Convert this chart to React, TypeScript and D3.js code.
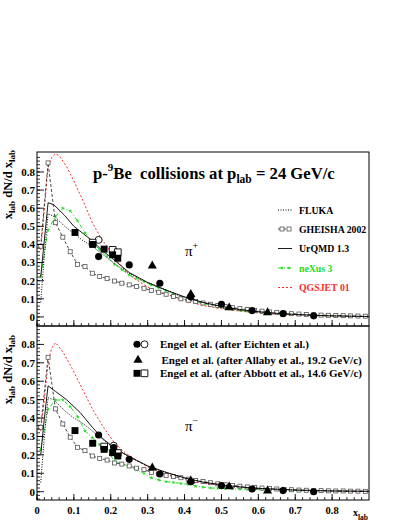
import React, { useRef, useEffect } from 'react';
import * as d3 from 'd3';

type Pt = [number, number];

// bin centres of the GHEISHA and neXus histograms
const binX = [0.01, 0.03, 0.05, 0.07, 0.09, 0.11, 0.13, 0.15, 0.17, 0.19, 0.21, 0.23, 0.25, 0.27, 0.29,
  0.31, 0.33, 0.35, 0.37, 0.39, 0.41, 0.43, 0.45, 0.47, 0.49, 0.51, 0.53, 0.55, 0.57, 0.59,
  0.61, 0.63, 0.65, 0.67, 0.69, 0.71, 0.73, 0.75, 0.77, 0.79, 0.81, 0.83, 0.85, 0.87, 0.89];

const gheishaPip = [0.39, 0.85, 0.52, 0.44, 0.36, 0.29, 0.278, 0.241, 0.223, 0.212, 0.198, 0.186, 0.177, 0.168, 0.158,
  0.146, 0.136, 0.125, 0.113, 0.1, 0.092, 0.085, 0.077, 0.07, 0.063, 0.057, 0.051, 0.046, 0.041, 0.036,
  0.032, 0.028, 0.025, 0.021, 0.018, 0.016, 0.014, 0.012, 0.01, 0.009, 0.008, 0.007, 0.006, 0.005, 0.004];
const gheishaPim = [0.35, 0.73, 0.45, 0.368, 0.296, 0.241, 0.223, 0.194, 0.181, 0.172, 0.156, 0.15, 0.14, 0.128, 0.12,
  0.105, 0.097, 0.088, 0.082, 0.076, 0.068, 0.061, 0.055, 0.049, 0.043, 0.038, 0.034, 0.03, 0.026, 0.023,
  0.02, 0.017, 0.015, 0.013, 0.011, 0.009, 0.008, 0.007, 0.006, 0.005, 0.004, 0.004, 0.003, 0.003, 0.002];

const nexusPip = [0.22, 0.48, 0.555, 0.6, 0.585, 0.53, 0.465, 0.415, 0.37, 0.335, 0.29, 0.26, 0.232, 0.212, 0.195,
  0.177, 0.16, 0.145, 0.127, 0.11, 0.096, 0.083, 0.073, 0.064, 0.055, 0.048, 0.042, 0.036, 0.031, 0.027,
  0.024, 0.021, 0.019, 0.016, 0.014, 0.012, 0.01, 0.008, 0.007, 0.006, 0.005, 0.005, 0.004, 0.003, 0.003];
const nexusPim = [0.227, 0.448, 0.498, 0.498, 0.462, 0.408, 0.33, 0.293, 0.254, 0.227, 0.165, 0.155, 0.136, 0.118, 0.1,
  0.075, 0.064, 0.055, 0.05, 0.045, 0.04, 0.03, 0.025, 0.02, 0.019, 0.018, 0.016, 0.014, 0.013, 0.012,
  0.011, 0.01, 0.009, 0.008, 0.007, 0.006, 0.005, 0.005, 0.004, 0.004, 0.003, 0.003, 0.002, 0.002, 0.002];

const flukaPip: Pt[] = [[0.01, 0.08], [0.02, 0.34], [0.03, 0.57], [0.05, 0.55], [0.075, 0.5], [0.1, 0.46],
  [0.125, 0.42], [0.15, 0.39], [0.175, 0.35], [0.2, 0.31], [0.25, 0.24], [0.3, 0.19], [0.35, 0.148],
  [0.4, 0.11], [0.45, 0.08], [0.5, 0.057], [0.55, 0.04], [0.6, 0.028], [0.65, 0.019], [0.7, 0.013],
  [0.75, 0.009], [0.8, 0.006], [0.85, 0.004], [0.9, 0.002]];
const flukaPim: Pt[] = [[0.01, 0.05], [0.02, 0.3], [0.03, 0.51], [0.045, 0.5], [0.075, 0.44], [0.1, 0.4],
  [0.125, 0.37], [0.15, 0.33], [0.175, 0.29], [0.2, 0.25], [0.25, 0.19], [0.3, 0.14], [0.35, 0.105],
  [0.4, 0.075], [0.45, 0.052], [0.5, 0.037], [0.55, 0.026], [0.6, 0.018], [0.7, 0.009], [0.8, 0.004], [0.9, 0.002]];

const urqmdPip: Pt[] = [[0.01, 0.22], [0.03, 0.63], [0.045, 0.62], [0.075, 0.56], [0.1, 0.5], [0.125, 0.46],
  [0.15, 0.42], [0.175, 0.37], [0.2, 0.33], [0.25, 0.245], [0.3, 0.19], [0.35, 0.148], [0.4, 0.11],
  [0.45, 0.08], [0.5, 0.058], [0.55, 0.041], [0.6, 0.029], [0.65, 0.02], [0.7, 0.014], [0.75, 0.009],
  [0.8, 0.006], [0.85, 0.004], [0.9, 0.002]];
const urqmdPim: Pt[] = [[0.01, 0.2], [0.02, 0.4], [0.03, 0.575], [0.05, 0.545], [0.08, 0.5], [0.117, 0.43],
  [0.15, 0.35], [0.18, 0.285], [0.216, 0.23], [0.25, 0.19], [0.3, 0.14], [0.35, 0.105], [0.4, 0.075],
  [0.45, 0.052], [0.5, 0.037], [0.55, 0.026], [0.6, 0.018], [0.7, 0.009], [0.8, 0.004], [0.9, 0.002]];

const qgsjetPip: Pt[] = [[0.01, 0.37], [0.02, 0.6], [0.03, 0.83], [0.04, 0.88], [0.05, 0.9], [0.06, 0.89],
  [0.08, 0.83], [0.1, 0.75], [0.125, 0.64], [0.15, 0.52], [0.175, 0.43], [0.2, 0.36], [0.225, 0.29],
  [0.25, 0.23], [0.3, 0.165], [0.35, 0.125], [0.4, 0.09], [0.45, 0.063], [0.5, 0.045], [0.55, 0.032],
  [0.6, 0.022], [0.65, 0.015], [0.7, 0.01], [0.75, 0.007], [0.8, 0.005], [0.85, 0.003], [0.9, 0.002]];
const qgsjetPim: Pt[] = [[0.01, 0.33], [0.02, 0.5], [0.03, 0.7], [0.04, 0.78], [0.05, 0.81], [0.07, 0.76],
  [0.095, 0.67], [0.125, 0.55], [0.15, 0.45], [0.18, 0.35], [0.21, 0.265], [0.24, 0.21], [0.27, 0.17],
  [0.3, 0.135], [0.35, 0.095], [0.4, 0.068], [0.45, 0.047], [0.5, 0.033], [0.55, 0.023], [0.6, 0.016],
  [0.7, 0.008], [0.8, 0.004], [0.9, 0.002]];

// measurements
const eichtenPip: Pt[] = [[0.167, 0.333], [0.25, 0.287], [0.333, 0.186], [0.417, 0.112], [0.5, 0.07],
  [0.583, 0.035], [0.667, 0.018], [0.75, 0.006]];
const eichtenOpenPip: Pt[] = [[0.167, 0.425], [0.208, 0.365]];
const allabyPip: Pt[] = [[0.3125, 0.282], [0.417, 0.125], [0.521, 0.051], [0.625, 0.024]];
const abbottPip: Pt[] = [[0.103, 0.466], [0.151, 0.4], [0.182, 0.374], [0.205, 0.343], [0.219, 0.324]];
const abbottOpenPip: Pt[] = [[0.151, 0.41], [0.205, 0.37], [0.219, 0.357]];

const eichtenPim: Pt[] = [[0.167, 0.308], [0.208, 0.24], [0.25, 0.176], [0.333, 0.096], [0.417, 0.054],
  [0.5, 0.033], [0.583, 0.015], [0.667, 0.006], [0.75, 0.0]];
const eichtenOpenPim: Pt[] = [[0.208, 0.25]];
const allabyPim: Pt[] = [[0.3125, 0.13], [0.417, 0.06], [0.521, 0.027], [0.625, 0.005]];
const abbottPim: Pt[] = [[0.103, 0.332], [0.151, 0.263], [0.182, 0.23], [0.205, 0.212], [0.219, 0.194]];
const abbottOpenPim: Pt[] = [[0.182, 0.245], [0.219, 0.21]];

const yTickValues = [0, 0.1, 0.2, 0.3, 0.4, 0.5, 0.6, 0.7, 0.8];
const xTickValues = [0, 0.1, 0.2, 0.3, 0.4, 0.5, 0.6, 0.7, 0.8];
const modelNames = ['FLUKA', 'GHEISHA 2002', 'UrQMD 1.3', 'neXus 3', 'QGSJET 01'];
const dataNames = ['Engel et al. (after Eichten et al.)', 'Engel et al. (after Allaby et al., 19.2 GeV/c)',
  'Engel et al. (after Abbott et al., 14.6 GeV/c)'];

const FONT = "'Liberation Serif', 'Times New Roman', serif";
const GREEN = '#22dd22';
const RED = '#ff2a2a';

const App = () => {
  const ref = useRef<SVGSVGElement>(null);

  useEffect(() => {
    const svg = d3.select(ref.current);
    svg.selectAll('*').remove();
    svg.attr('font-family', FONT).attr('font-weight', 'bold');

    const left = 37, right = 369;
    const x = d3.scaleLinear().domain([0, 0.9]).range([left, right]);

    const styles: Record<string, any> = {
      fluka: { stroke: '#000', width: 1, dash: '1,1.5' },
      gheisha: { stroke: '#333', width: 0.9, dash: '3,2' },
      urqmd: { stroke: '#000', width: 0.9, dash: null },
      nexus: { stroke: GREEN, width: 1, dash: '4,2,1,2' },
      qgsjet: { stroke: RED, width: 1, dash: '2,2' },
    };

    const sym = (type: any, size: number) => d3.symbol().type(type).size(size)();

    const drawPanel = (top: number, bottom: number, yDomain: [number, number], id: string, d: any) => {
      const y = d3.scaleLinear().domain(yDomain).range([bottom, top]);
      const g = svg.append('g');

      g.append('clipPath').attr('id', id).append('rect')
        .attr('x', left).attr('y', top).attr('width', right - left).attr('height', bottom - top);

      const plot = g.append('g').attr('clip-path', `url(#${id})`);
      const line = d3.line<Pt>().x(p => x(p[0])).y(p => y(p[1]));

      const curve = (pts: Pt[], s: any) => {
        plot.append('path').attr('d', line(pts)).attr('fill', 'none')
          .attr('stroke', s.stroke).attr('stroke-width', s.width)
          .attr('stroke-dasharray', s.dash);
      };

      const nexusPts: Pt[] = binX.map((v, i) => [v, d.nexus[i]]);
      const gheishaPts: Pt[] = binX.map((v, i) => [v, d.gheisha[i]]);

      curve(d.qgsjet, styles.qgsjet);
      curve(nexusPts, styles.nexus);
      plot.selectAll(null).data(nexusPts).join('path')
        .attr('d', sym(d3.symbolStar, 5))
        .attr('transform', p => `translate(${x(p[0])},${y(p[1])})`)
        .attr('fill', GREEN);
      curve(gheishaPts, styles.gheisha);
      plot.selectAll(null).data(gheishaPts).join('rect')
        .attr('x', p => x(p[0]) - 2).attr('y', p => y(p[1]) - 2)
        .attr('width', 4).attr('height', 4)
        .attr('fill', '#fff').attr('stroke', '#555').attr('stroke-width', 0.8);
      curve(d.urqmd, styles.urqmd);
      curve(d.fluka, styles.fluka);

      const markers = (pts: Pt[], type: any, size: number, filled: boolean) => {
        plot.selectAll(null).data(pts).join('path')
          .attr('d', sym(type, size))
          .attr('transform', p => `translate(${x(p[0])},${y(p[1])})`)
          .attr('fill', filled ? '#000' : '#fff')
          .attr('stroke', '#000').attr('stroke-width', filled ? 0 : 0.9);
      };
      markers(d.eichtenOpen, d3.symbolCircle, 38, false);
      markers(d.abbottOpen, d3.symbolSquare, 45, false);
      markers(d.eichten, d3.symbolCircle, 40, true);
      markers(d.allaby, d3.symbolTriangle, 36, true);
      markers(d.abbott, d3.symbolSquare, 48, true);

      // frame
      g.append('rect').attr('x', left).attr('y', top).attr('width', right - left).attr('height', bottom - top)
        .attr('fill', 'none').attr('stroke', '#000').attr('stroke-width', 1);

      // y ticks
      const yMinor = d3.range(-0.04, 0.9, 0.02);
      g.selectAll(null).data(yMinor).join('line')
        .attr('x1', left).attr('x2', left + 3)
        .attr('y1', v => y(v)).attr('y2', v => y(v))
        .attr('stroke', '#000').attr('stroke-width', 0.8);
      g.selectAll(null).data(yTickValues).join('line')
        .attr('x1', left).attr('x2', left + 7)
        .attr('y1', v => y(v)).attr('y2', v => y(v))
        .attr('stroke', '#000').attr('stroke-width', 0.9);
      g.selectAll(null).data(yTickValues).join('text')
        .attr('x', left - 2).attr('y', v => y(v)).attr('dy', '0.35em')
        .attr('text-anchor', 'end').attr('font-size', 11)
        .text(v => (v === 0 ? '0' : v.toFixed(1)));

      // x ticks
      const xMinor = d3.range(0, 0.9, 0.02);
      g.selectAll(null).data(xMinor).join('line')
        .attr('x1', v => x(v)).attr('x2', v => x(v))
        .attr('y1', bottom).attr('y2', bottom - 3)
        .attr('stroke', '#000').attr('stroke-width', 0.8);
      g.selectAll(null).data(xTickValues).join('line')
        .attr('x1', v => x(v)).attr('x2', v => x(v))
        .attr('y1', bottom).attr('y2', bottom - 6)
        .attr('stroke', '#000').attr('stroke-width', 0.9);

      // y title
      const yt = g.append('text')
        .attr('transform', `translate(12,${d.titleEnd}) rotate(-90)`)
        .attr('text-anchor', 'end').attr('font-size', 12.5);
      yt.append('tspan').text('x');
      yt.append('tspan').attr('dy', 3).attr('font-size', 9).text('lab');
      yt.append('tspan').attr('dy', -3).text(' dN/d x');
      yt.append('tspan').attr('dy', 3).attr('font-size', 9).text('lab');

      // particle label
      const pl = g.append('text').attr('x', 185).attr('y', d.piY)
        .attr('font-size', 15).attr('font-weight', 'normal');
      pl.append('tspan').text('π');
      pl.append('tspan').attr('dy', -7).attr('font-size', 10).text(d.charge);

      return { g, y };
    };

    drawPanel(152, 326, [-0.05, 0.91], 'clipTop', {
      fluka: flukaPip, urqmd: urqmdPip, qgsjet: qgsjetPip, gheisha: gheishaPip, nexus: nexusPip,
      eichten: eichtenPip, eichtenOpen: eichtenOpenPip, allaby: allabyPip, abbott: abbottPip, abbottOpen: abbottOpenPip,
      titleEnd: 150, piY: 256, charge: '+',
    });
    const bot = drawPanel(326, 500, [-0.045, 0.9], 'clipBot', {
      fluka: flukaPim, urqmd: urqmdPim, qgsjet: qgsjetPim, gheisha: gheishaPim, nexus: nexusPim,
      eichten: eichtenPim, eichtenOpen: eichtenOpenPim, allaby: allabyPim, abbott: abbottPim, abbottOpen: abbottOpenPim,
      titleEnd: 335, piY: 431, charge: '−',
    });

    // x tick labels
    bot.g.selectAll(null).data(xTickValues).join('text')
      .attr('x', v => x(v)).attr('y', 514).attr('text-anchor', 'middle').attr('font-size', 10.5)
      .text(v => (v === 0 ? '0' : v.toFixed(1)));
    const xt = svg.append('text').attr('x', 353).attr('y', 516).attr('font-size', 10);
    xt.append('tspan').text('x');
    xt.append('tspan').attr('dy', 4).attr('font-size', 7.5).text('lab');

    // title, scaled so it spans the same width as in the original
    const t = svg.append('text').attr('x', 93).attr('y', 179).attr('font-size', 15.2)
      .style('white-space', 'pre');
    t.append('tspan').text('p-');
    t.append('tspan').attr('dy', -7).attr('font-size', 10).text('9');
    t.append('tspan').attr('dy', 7).text('Be  collisions at p');
    t.append('tspan').attr('dy', 4).attr('font-size', 10.5).text('lab');
    t.append('tspan').attr('dy', -4).text(' = 24 GeV/c');
    const tw = (t.node() as SVGTextElement).getBBox().width;
    if (tw > 0) {
      const k = 242 / tw;
      t.attr('transform', `translate(93,179) scale(${k}) translate(-93,-179)`);
    }

    // model legend
    const legY = [210, 229, 248.5, 268, 287.5];
    const keys = ['fluka', 'gheisha', 'urqmd', 'nexus', 'qgsjet'];
    const textColors = ['#000', '#000', '#000', GREEN, RED];
    keys.forEach((k, i) => {
      const s = styles[k];
      const ly = legY[i];
      svg.append('line').attr('x1', 278).attr('x2', 292).attr('y1', ly).attr('y2', ly)
        .attr('stroke', s.stroke).attr('stroke-width', s.width).attr('stroke-dasharray', s.dash);
      if (k === 'gheisha') {
        [282, 289].forEach(cx => svg.append('rect').attr('x', cx - 2).attr('y', ly - 2)
          .attr('width', 4).attr('height', 4).attr('fill', '#fff').attr('stroke', '#555').attr('stroke-width', 0.8));
      }
      if (k === 'nexus') {
        [282, 289].forEach(cx => svg.append('path').attr('d', sym(d3.symbolStar, 5))
          .attr('transform', `translate(${cx},${ly})`).attr('fill', GREEN));
      }
      svg.append('text').attr('x', 299).attr('y', ly + 3.5).attr('font-size', 9.8)
        .attr('fill', textColors[i]).text(modelNames[i]);
    });

    // data legend
    const dY = [344.3, 360, 373.3];
    const lm = (cx: number, cy: number, type: any, size: number, filled: boolean) =>
      svg.append('path').attr('d', sym(type, size)).attr('transform', `translate(${cx},${cy})`)
        .attr('fill', filled ? '#000' : '#fff').attr('stroke', '#000').attr('stroke-width', filled ? 0 : 0.9);
    lm(137, dY[0], d3.symbolCircle, 40, true);
    lm(144.5, dY[0], d3.symbolCircle, 38, false);
    lm(138, dY[1], d3.symbolTriangle, 36, true);
    lm(137, dY[2], d3.symbolSquare, 48, true);
    lm(144.5, dY[2], d3.symbolSquare, 45, false);
    dataNames.forEach((n, i) => {
      svg.append('text').attr('x', i === 1 ? 161.5 : 160).attr('y', dY[i] + 3.5)
        .attr('font-size', 11).text(n);
    });
  }, []);

  return (
    <svg ref={ref} width={409} height={529}
      style={{ position: 'absolute', left: 0, top: 0, background: '#fff' }} />
  );
};

export default App;
